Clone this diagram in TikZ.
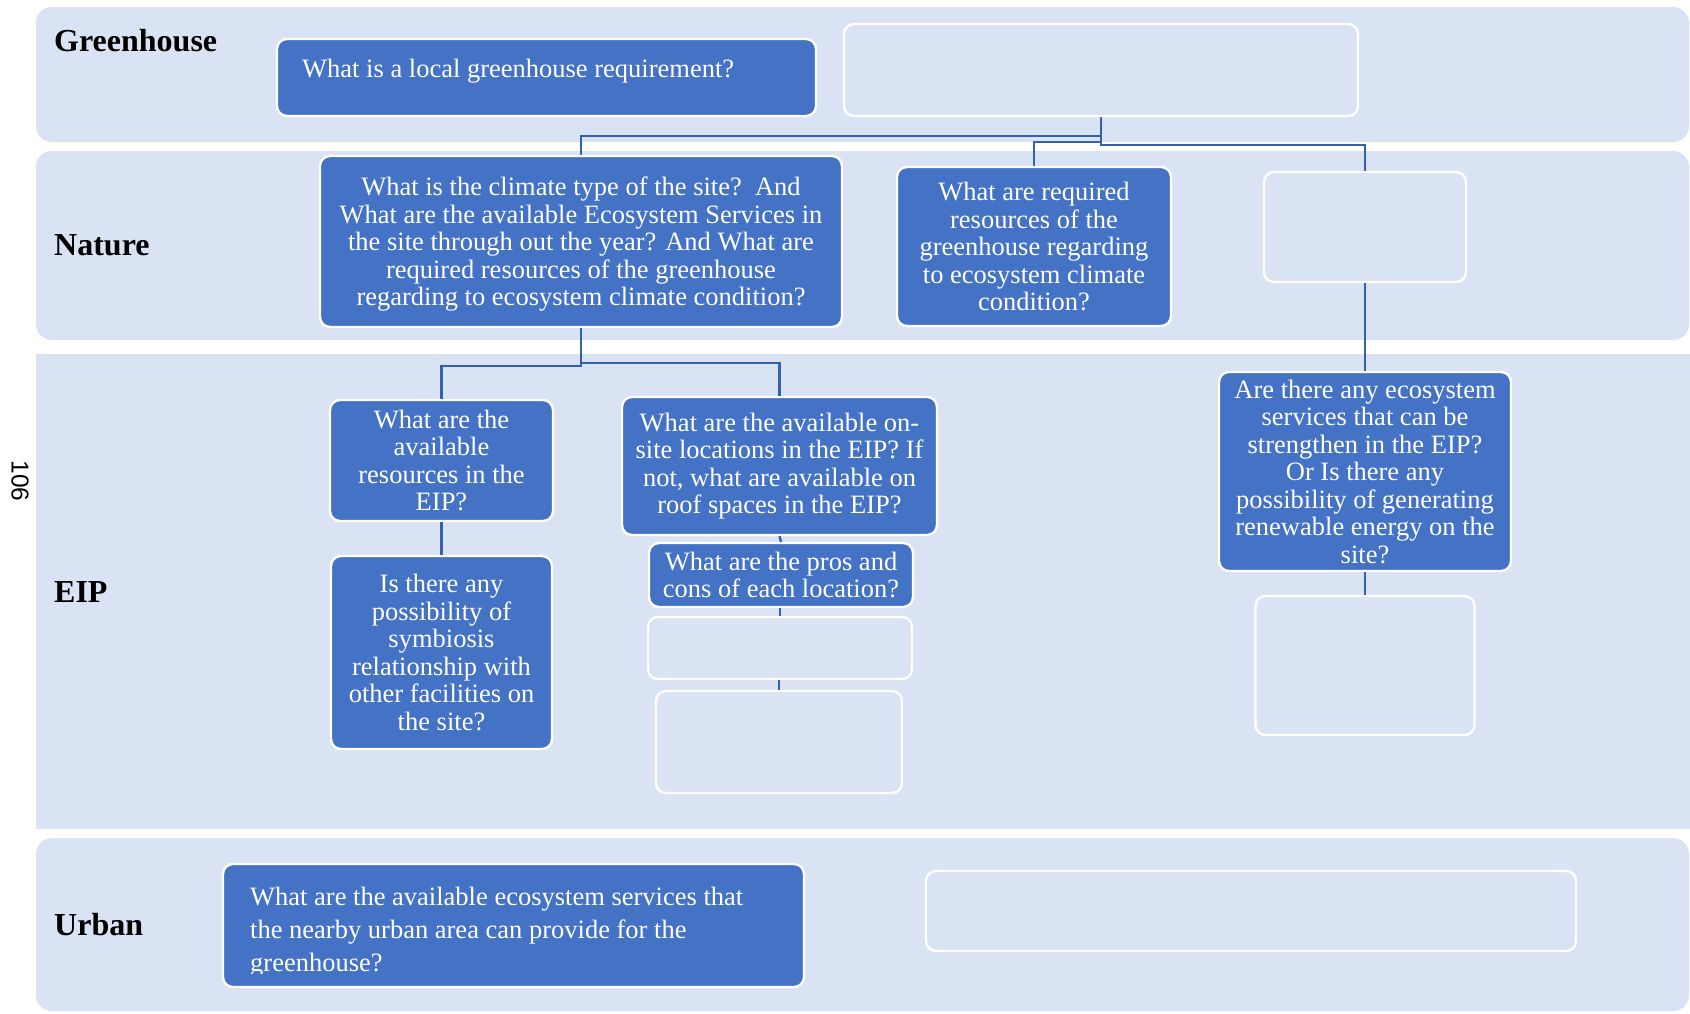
\documentclass[tikz,border=0pt]{standalone}
\usepackage{fontspec}
\setmainfont{Liberation Serif}
\newfontfamily\pagenumfont{Liberation Sans}
\definecolor{bandblue}{HTML}{DAE3F3}
\definecolor{boxblue}{HTML}{4472C4}
\definecolor{lineblue}{HTML}{3560AA}
\tikzset{
  band/.style={fill=bandblue},
  qbox/.style={draw=white, line width=2.4pt, fill=boxblue, rounded corners=10pt,
    text=white, align=center, inner sep=0pt,
    font=\fontsize{26.5}{27.5}\selectfont},
  ebox/.style={draw=white, line width=2.4pt, fill=bandblue, rounded corners=10pt, inner sep=0pt},
  lbl/.style={font=\fontsize{32}{36}\selectfont\bfseries, anchor=base west, inner sep=0pt},
  qtxt/.style={text=white, inner sep=0pt, font=\fontsize{26.5}{27.5}\selectfont},
  conn/.style={draw=lineblue, line width=2.4pt}
}
\begin{document}
\begin{tikzpicture}[x=1pt,y=-1pt]
\useasboundingbox (0,0) rectangle (1690,1013);
\fill[white] (0,0) rectangle (1690,1013);
% bands
\fill[band, rounded corners=16pt] (36,7) rectangle (1689,142);
\fill[band, rounded corners=16pt] (36,151) rectangle (1689,340);
\fill[band] (36,354) rectangle (1690,829);
\fill[band, rounded corners=16pt] (36,838) rectangle (1689,1011);
% band labels
\node[lbl] (lgh) at (54,51) {Greenhouse};
\node[lbl] (lna) at (54,255) {Nature};
\node[lbl] (lei) at (54,602) {EIP};
\node[lbl] (lur) at (54,935) {Urban};
% page number
\node[font=\pagenumfont\fontsize{24.5}{26}\selectfont, rotate=-90, inner sep=0pt] (pg) at (20,481) {106};
% connectors (drawn first, boxes on top)
\coordinate (ghEs) at (1101,116);
\draw[conn] (ghEs) -- ++(0,20) -| (581,156);
\draw[conn] (ghEs) -- ++(0,26) -| (1034,167);
\draw[conn] (ghEs) -- ++(0,29) -| (1365,172);
% Greenhouse row
\node[qbox, minimum width=539pt, minimum height=77pt] (ghA) at (546.5,77.5) {};
\node[qtxt, anchor=base west] (ghAt) at (302,77) {What is a local greenhouse requirement?};
\node[ebox, minimum width=514pt, minimum height=92pt] (ghE) at (1101,70) {};
% Nature row
\node[qbox, minimum width=522pt, minimum height=171pt] (natA) at (581,241.5) {};
\node[qtxt, align=center] (natAt) at (581,244.5)
  {What is the climate type of the site?\ \ And\\What are the available Ecosystem Services in\\the site through out the year? And What are\\required resources of the greenhouse\\regarding to ecosystem climate condition?};
\node[qbox, minimum width=274pt, minimum height=159pt] (natB) at (1034,246.5)
  {What are required\\resources of the\\greenhouse regarding\\to ecosystem climate\\condition?};
\node[ebox, minimum width=202pt, minimum height=110pt] (natC) at (1365,227) {};
% EIP row nodes
\node[qbox, minimum width=223pt, minimum height=121pt] (eipA) at (441.5,460.5)
  {What are the\\available\\resources in the\\EIP?};
\node[qbox, minimum width=221pt, minimum height=193pt] (eipB) at (441.5,652.5)
  {Is there any\\possibility of\\symbiosis\\relationship with\\other facilities on\\the site?};
\node[qbox, minimum width=315pt, minimum height=138pt] (eipC) at (779.5,466)
  {What are the available on-\\site locations in the EIP? If\\not, what are available on\\roof spaces in the EIP?};
\node[qbox, minimum width=264pt, minimum height=64pt] (eipD) at (781,575)
  {What are the pros and\\cons of each location?};
\node[ebox, minimum width=264pt, minimum height=62pt] (eipE) at (780,648) {};
\node[ebox, minimum width=246pt, minimum height=102pt] (eipF) at (779,742) {};
\node[qbox, minimum width=292pt, minimum height=199pt] (eipG) at (1365,471.5)
  {Are there any ecosystem\\services that can be\\strengthen in the EIP?\\Or Is there any\\possibility of generating\\renewable energy on the\\site?};
\node[ebox, minimum width=219pt, minimum height=139pt] (eipH) at (1365,665.5) {};
% EIP connectors
\draw[conn] (natA.south) -- ++(0,38) -| (eipA.north);
\draw[conn] (natA.south) -- ++(0,35) -| (eipC.north);
\draw[conn] (natC.south) -- (eipG.north);
\draw[conn] (eipA.south) -- (eipB.north);
\draw[conn] (eipC.south) -- (eipD.north);
\draw[conn] (eipD.south -| eipE.north) -- (eipE.north);
\draw[conn] (eipE.south -| eipF.north) -- (eipF.north);
\draw[conn] (eipG.south) -- (eipH.north);
% Urban row
\node[qbox, minimum width=581pt, minimum height=123pt] (urbA) at (513.5,925.5) {};
\begin{scope}
\clip (0,0) rectangle (1690,973);
\node[qtxt, anchor=west, align=left, font=\fontsize{26.5}{33}\selectfont] (urbAt) at (250,932.5)
  {What are the available ecosystem services that\\the nearby urban area can provide for the\\greenhouse?};
\end{scope}
\node[ebox, minimum width=650pt, minimum height=80pt] (urbE) at (1251,911) {};
\end{tikzpicture}
\end{document}
